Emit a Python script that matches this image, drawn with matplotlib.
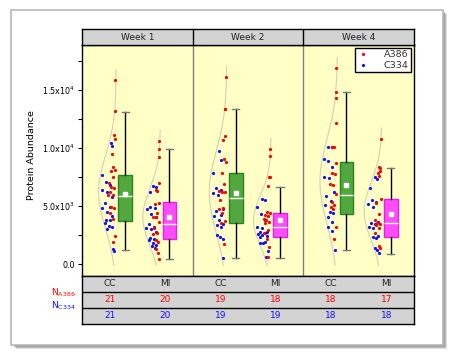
import numpy as np
import matplotlib
matplotlib.use("Agg")
import matplotlib.pyplot as plt
from matplotlib.patches import Rectangle
from matplotlib.lines import Line2D

# ---------------- data ----------------
weeks = ["Week 1", "Week 2", "Week 4"]
groups = ["CC", "MI"]

a386_w1_cc = [15860, 13217, 11120, 10746, 9456, 8333, 8103, 8017, 7470, 7010, 6609,
              6522, 6235, 5948, 5920, 4885, 4799, 4368, 3850, 2414, 1925]
c334_w1_cc = [10401, 10172, 7643, 7039, 6810, 6379, 6178, 5805, 5230, 4943, 4856,
              4512, 4138, 3793, 3764, 3506, 3276, 3218, 2989, 1264, 1149]
a386_w1_mi = [10630, 9885, 9253, 6954, 6379, 6293, 5287, 5143, 4368, 4080, 4023,
              3649, 3074, 2644, 2586, 2069, 1925, 1264, 919, 402]
c334_w1_mi = [6724, 6609, 6235, 4885, 4800, 4713, 4310, 4023, 3448, 3161, 3074,
              2989, 2787, 2213, 2126, 2069, 1782, 1638, 1552, 1350]
a386_w2_cc = [16150, 13361, 13333, 11063, 10689, 9051, 8821, 7815, 6896, 6293,
              6235, 6178, 5488, 4856, 4713, 4396, 3707, 3506, 1724]
c334_w2_cc = [9770, 8994, 7815, 6522, 6379, 6092, 5948, 4741, 4569, 4224, 4109,
              3764, 3477, 3333, 3218, 2500, 2356, 2126, 546]
a386_w2_mi = [9913, 9340, 7528, 7470, 6724, 4450, 4400, 4200, 4138, 3879, 3793,
              3649, 3500, 2931, 2644, 2184, 1494, 575]
c334_w2_mi = [5603, 5517, 4885, 4310, 3793, 3218, 3074, 2787, 2730, 2644, 2586,
              2529, 2414, 2299, 1868, 1782, 1782, 1120, 632]
a386_w4_cc = [16868, 14826, 14337, 12126, 10086, 10057, 8678, 7873, 7729, 6896,
              6839, 6034, 5373, 5115, 4943, 4713, 3218, 2126]
c334_w4_cc = [10114, 10057, 9024, 8879, 8333, 7470, 7384, 6235, 5891, 5459, 5086,
              4512, 4425, 4080, 3649, 3218, 2873, 1207]
a386_w4_mi = [10803, 8390, 8304, 8017, 7815, 7586, 5575, 5230, 4310, 3793, 3506,
              3448, 3362, 3074, 2701, 1552, 1408]
c334_w4_mi = [7528, 7298, 6522, 5517, 5373, 5172, 4943, 3649, 3563, 3420, 3218,
              3074, 2414, 2356, 2270, 1350, 1207, 919]

red_sets = [a386_w1_cc, a386_w1_mi, a386_w2_cc, a386_w2_mi, a386_w4_cc, a386_w4_mi]
blue_sets = [c334_w1_cc, c334_w1_mi, c334_w2_cc, c334_w2_mi, c334_w4_cc, c334_w4_mi]

# box summaries (W1 CC, W1 MI, W2 CC, W2 MI, W4 CC, W4 MI)
box_q1 = [3736, 2127, 3506, 2356, 4282, 2356]
box_median = [5862, 3448, 5660, 3161, 5948, 3506]
box_q3 = [7646, 5373, 7815, 4368, 8767, 5575]
box_mean = [6008, 4023, 6092, 3780, 6781, 4282]
whisker_low = [1178, 402, 488, 488, 1178, 833]
whisker_high = [13130, 9885, 13333, 6667, 14800, 8304]

yticks_major = [0, 5000, 10000, 15000]
ytick_labels = ["0.0", r"5.0x10$^{3}$", r"1.0x10$^{4}$", r"1.5x10$^{4}$"]

# ---------------- styles ----------------
RED = "#FF0000"
BLUE = "#1010FF"
BG = "#FFFFC6"
GRAY = "#D3D3D3"
FACE = {"CC": "#52A83E", "MI": "#FF4CFF"}
EDGE = {"CC": "#23861C", "MI": "#E61EE6"}
CURVE = "#D6CFB5"

W, H = 455, 357
fig = plt.figure(figsize=(W / 100, H / 100), dpi=100)
fig.patch.set_facecolor("white")

def fx(px):
    return px / W

def fy(py):
    return 1 - py / H

# shadow + white panel
for k, a in [(4, 0.25), (3, 0.35), (2, 0.45)]:
    fig.patches.append(Rectangle((fx(12 + k), fy(345 + k)), fx(431), 335 / H,
                                 transform=fig.transFigure, facecolor="#808080",
                                 edgecolor="none", alpha=a, zorder=-5))
fig.patches.append(Rectangle((fx(11), fy(345)), fx(432), 335 / H,
                             transform=fig.transFigure, facecolor="white",
                             edgecolor="#B8B8B8", lw=1.2, zorder=-4))

L, R = 82, 414
TOP_H, PLOT_T, PLOT_B, TAB_B = 29, 45, 276, 324

ax = fig.add_axes([fx(L), fy(PLOT_B), (R - L) / W, (PLOT_B - PLOT_T) / H])
hax = fig.add_axes([fx(L), fy(PLOT_T), (R - L) / W, (PLOT_T - TOP_H) / H])
tax = fig.add_axes([fx(L), fy(TAB_B), (R - L) / W, (TAB_B - PLOT_B) / H])

ax.set_facecolor(BG)
ax.set_xlim(0, 3)
ax.set_ylim(-1034, 18880)

box_off = {"CC": 0.39, "MI": 0.79}
base_gap = 0.082
amp = 0.158

gi = 0
for p in range(3):
    for g in groups:
        red = np.array(red_sets[gi], float)
        blue = np.array(blue_sets[gi], float)
        allv = np.concatenate([red, blue])
        pos = p + box_off[g]
        stats = dict(med=box_median[gi], q1=box_q1[gi], q3=box_q3[gi],
                     mean=box_mean[gi], whislo=whisker_low[gi],
                     whishi=whisker_high[gi], fliers=[])
        ax.bxp([stats], positions=[pos], widths=0.125,
               showfliers=False, showmeans=True, patch_artist=True,
               manage_ticks=False, capwidths=0.065,
               boxprops=dict(facecolor=FACE[g], edgecolor=EDGE[g], lw=1),
               medianprops=dict(color="white", lw=1),
               whiskerprops=dict(color="black", lw=1),
               capprops=dict(color="#7A7A7A", lw=1),
               meanprops=dict(marker="s", markerfacecolor="white",
                              markeredgecolor="white", markersize=3))
        # normal distribution curve
        mu, sd = allv.mean(), allv.std(ddof=1)
        base = pos - base_gap
        yy = np.linspace(-100, allv.max() + 900, 200)
        ww = amp * np.exp(-0.5 * ((yy - mu) / sd) ** 2)
        ax.plot(base - ww, yy, color=CURVE, lw=0.8, zorder=2)

        def jit(vals, lo, span, ph):
            u = np.array([lo + span * ((i * 0.618034 + ph) % 1.0) for i in range(len(vals))])
            w_at = amp * np.exp(-0.5 * ((vals - mu) / sd) ** 2)
            return base - 0.01 - u * (w_at - 0.01).clip(min=0)

        ax.plot(jit(blue, 0.15, 0.8, 0.7), blue, "o", color=BLUE, ms=2.3,
                mec="none", zorder=3)
        ax.plot(jit(red, 0.0, 0.45, 0.3), red, "o", color=RED, ms=2.3,
                mec="none", zorder=3)
        gi += 1

for xv in (1, 2):
    ax.axvline(xv, color="#808080", lw=1, zorder=1)

ax.set_xticks([])
ax.set_yticks(yticks_major)
ax.set_yticklabels(ytick_labels)
ax.set_yticks([2500, 7500, 12500, 17500], minor=True)
ax.tick_params(axis="y", which="both", direction="out", length=3, width=0.8,
               labelsize=5.8, pad=2)
for s in ax.spines.values():
    s.set_color("black")
    s.set_linewidth(1)
fig.text(fx(32), fy(155), "Protein Abundance", rotation=90, ha="center",
         va="center", fontsize=6.8)

handles = [Line2D([], [], ls="none", marker="o", color=RED, ms=2.3, mec="none"),
           Line2D([], [], ls="none", marker="o", color=BLUE, ms=2.3, mec="none")]
leg = ax.legend(handles, ["A386", "C334"], loc="upper right", fontsize=6.8,
                frameon=True, fancybox=False, framealpha=1, edgecolor="black",
                handlelength=1.2, handletextpad=1.6, borderpad=0.25,
                labelspacing=0.2, borderaxespad=0.3)
leg.get_frame().set_linewidth(1)
leg.get_frame().set_facecolor("white")
for t in leg.get_texts():
    t.set_color("#333333")

# header
hax.set_facecolor(GRAY)
hax.set_xlim(0, 3)
hax.set_ylim(0, 1)
hax.set_xticks([])
hax.set_yticks([])
for xv in (1, 2):
    hax.axvline(xv, color="black", lw=1)
for i, wk in enumerate(weeks):
    hax.text(i + 0.5, 0.45, wk, ha="center", va="center", fontsize=6.5,
             color="#222222")
for s in hax.spines.values():
    s.set_linewidth(1)

# table
tax.set_facecolor(GRAY)
tax.set_xlim(0, 3)
tax.set_ylim(0, 3)
tax.set_xticks([])
tax.set_yticks([])
for yv in (1, 2):
    tax.axhline(yv, color="black", lw=1)
for s in tax.spines.values():
    s.set_linewidth(1)
gi = 0
cat_off = {"CC": 0.25, "MI": 0.75}
for p in range(3):
    for g in groups:
        x = p + cat_off[g]
        tax.text(x, 2.5, g, ha="center", va="center", fontsize=6.5, color="#222222")
        tax.text(x, 1.5, str(len(red_sets[gi])), ha="center", va="center",
                 fontsize=6.5, color=RED)
        tax.text(x, 0.5, str(len(blue_sets[gi])), ha="center", va="center",
                 fontsize=6.5, color=BLUE)
        gi += 1

fig.text(fx(76), fy(293), r"N$_{\mathregular{A386}}$", ha="right", va="center",
         fontsize=6.5, color=RED)
fig.text(fx(76), fy(306), r"N$_{\mathregular{C334}}$", ha="right", va="center",
         fontsize=6.5, color=BLUE)

fig.savefig("out.png", dpi=100)
